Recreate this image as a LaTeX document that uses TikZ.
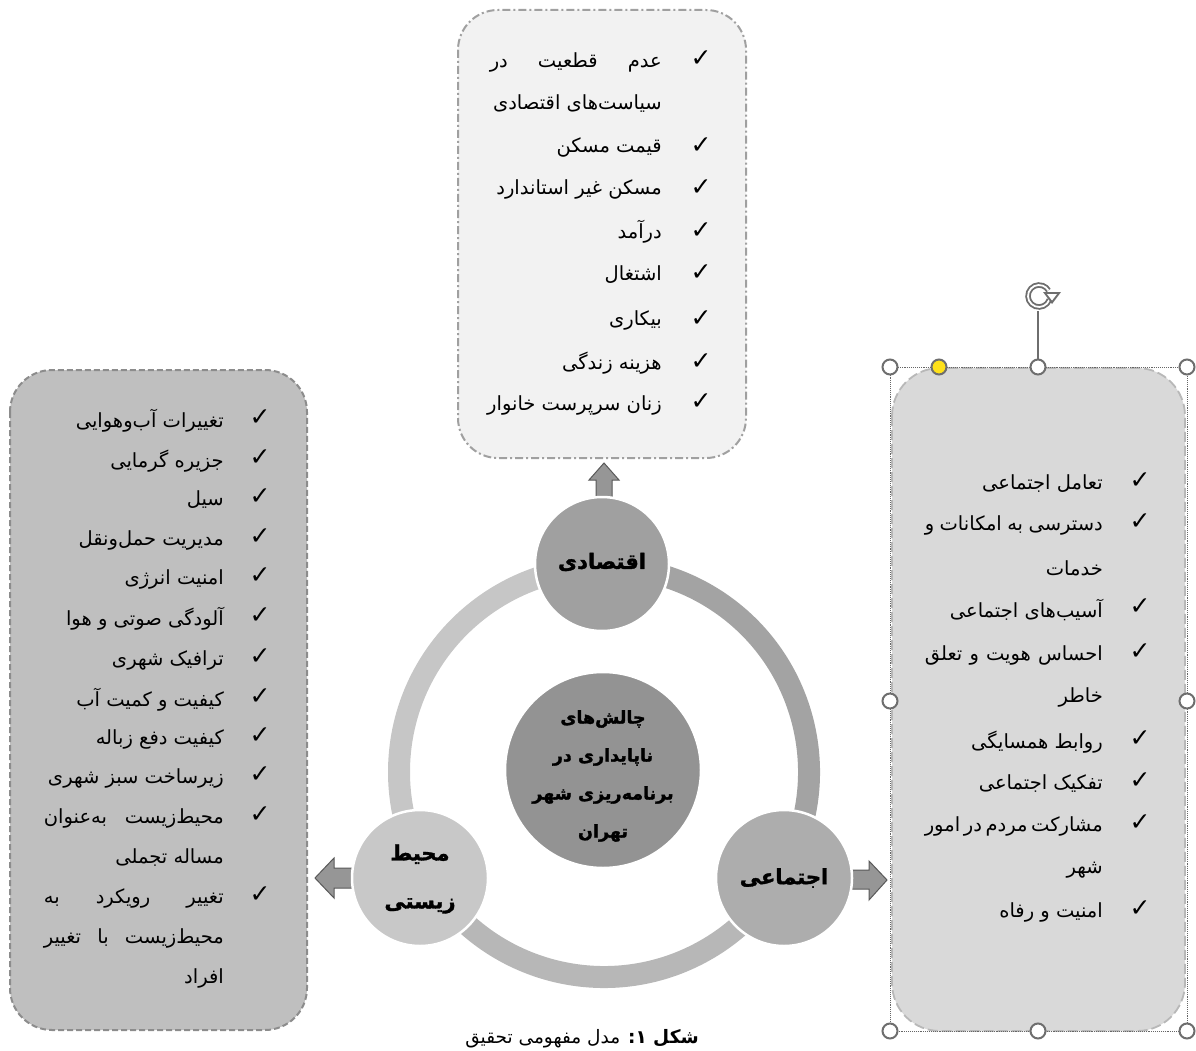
\documentclass[tikz,border=0pt]{standalone}
\usepackage{fontspec}
\usetikzlibrary{arrows.meta}
\TeXXeTstate=1
\newfontfamily\arabicfont[Script=Arabic]{DejaVu Sans}
\newfontfamily\arabicheavy[Script=Arabic, FakeBold=1.6]{DejaVu Sans Bold}
\newfontfamily\symfont{DejaVu Sans}
\definecolor{topfill}{HTML}{F2F2F2}
\definecolor{leftfill}{HTML}{BFBFBF}
\definecolor{rightfill}{HTML}{D9D9D9}
\definecolor{bordgray}{HTML}{A0A0A0}
\definecolor{ringA}{HTML}{C6C6C6}
\definecolor{ringB}{HTML}{A3A3A3}
\definecolor{ringC}{HTML}{B7B7B7}
\definecolor{cTop}{HTML}{A0A0A0}
\definecolor{cCen}{HTML}{939393}
\definecolor{cRight}{HTML}{ADADAD}
\definecolor{cLeft}{HTML}{C8C8C8}
\definecolor{arrfill}{HTML}{969696}
\definecolor{handlegray}{HTML}{6E6E6E}
\definecolor{yel}{HTML}{FFE11A}
\newcommand\jsp{\hskip 3pt plus 1fill\relax}
\begin{document}
\begin{tikzpicture}[x=1pt,y=-1pt,
  itm/.style={anchor=east, inner sep=0pt, font=\arabicfont\fontsize{19.5}{24}\selectfont},
  chk/.style={inner sep=0pt, font=\symfont\fontsize{25}{28}\selectfont},
  circ/.style={circle, draw=white, line width=2.5pt, inner sep=0pt},
  ctext/.style={inner sep=0pt, align=center, font=\arabicheavy\fontsize{21}{48}\selectfont},
  blockarrow/.style={fill=arrfill, draw=black!65, line width=1pt, line join=miter},
  handle/.style={circle, fill=white, draw=handlegray, line width=2pt, minimum size=15pt, inner sep=0pt}
]
\useasboundingbox (0,0) rectangle (1196,1051);

% boxes
\draw[fill=topfill, draw=bordgray, line width=2pt, dash pattern=on 8pt off 3pt on 2pt off 3pt,
  rounded corners=40pt] (458,10) rectangle (746,458);
\draw[fill=leftfill, draw=black!45, line width=2pt, dash pattern=on 6pt off 3pt,
  rounded corners=42pt] (10,370) rectangle (307,1030);
\draw[fill=rightfill, draw=black!28, line width=1.8pt, dash pattern=on 10pt off 4pt,
  rounded corners=48pt] (892,368) rectangle (1185,1031);

% selection frame
\draw[densely dotted, draw=black!60, line width=0.9pt] (890,367) rectangle (1187,1031);
\coordinate (rotbase) at (1038,367);
\coordinate (rotc) at (1039,296);
\draw[handlegray, line width=1.5pt] (rotbase) -- (1038,311);
\draw[handlegray, line width=5.5pt] (rotc) ++(-20:11pt) arc[start angle=-20, end angle=-330, radius=11pt];
\draw[white, line width=1.8pt] (rotc) ++(-20:11pt) arc[start angle=-20, end angle=-330, radius=11pt];
\fill[handlegray] (1043,292) -- (1061,292) -- (1052,304) -- cycle;
\fill[white] (1047,294) -- (1057,294) -- (1052,300.5) -- cycle;
\node[handle] (h1) at (890,367) {};
\node[handle] (h2) at (1038,367) {};
\node[handle] (h3) at (1187,367) {};
\node[handle] (h4) at (890,701) {};
\node[handle] (h5) at (1187,701) {};
\node[handle] (h6) at (890,1031) {};
\node[handle] (h7) at (1038,1031) {};
\node[handle] (h8) at (1187,1031) {};
\node[handle, fill=yel] (hy) at (939,367) {};

% ring
\coordinate (rc) at (604,772);
\draw[ringA, line width=22pt] (rc) ++(90:205pt) arc[start angle=90, end angle=210, radius=205pt];
\draw[ringC, line width=22pt] (rc) ++(210:205pt) arc[start angle=210, end angle=330, radius=205pt];
\draw[ringB, line width=22pt] (rc) ++(-30:205pt) arc[start angle=-30, end angle=90, radius=205pt];

% block arrows
\draw[blockarrow] (596,500) -- (596,480) -- (589,480) -- (604,463) -- (619,480) -- (612,480) -- (612,500) -- cycle;
\draw[blockarrow] (360,868) -- (334,868) -- (334,858) -- (315,878) -- (334,898) -- (334,888) -- (360,888) -- cycle;
\draw[blockarrow] (846,870) -- (869,870) -- (869,861) -- (887,880) -- (869,900) -- (869,889) -- (846,889) -- cycle;

% circles
\node[circ, fill=cTop, minimum size=134pt] (eco) at (602,564) {};
\node[circ, fill=cLeft, minimum size=136pt] (env) at (420,878) {};
\node[circ, fill=cRight, minimum size=136pt] (soc) at (784,878) {};
\node[circ, fill=cCen, minimum size=196pt] (cen) at (603,770) {};
\node[ctext] (ecoT) at (602,562) {\beginR اقتصادی\endR};
\node[ctext] (envT) at (420,879) {\beginR محیط\endR\\\beginR زیستی\endR};
\node[ctext] (socT) at (784,878) {\beginR اجتماعی\endR};
\node[ctext, font=\arabicheavy\fontsize{17.5}{38}\selectfont] (cenT) at (603,776)
  {\beginR چالش‌های\endR\\\beginR ناپایداری در\endR\\\beginR برنامه‌ریزی شهر\endR\\\beginR تهران\endR};

% top list
\node[itm] (e1) at (662,62) {\hbox to 172pt{\beginR عدم\jsp قطعیت\jsp در\endR}};
\node[itm] (e1b) at (662,104) {\beginR سیاست‌های اقتصادی\endR};
\node[itm] (e2) at (662,147) {\beginR قیمت مسکن\endR};
\node[itm] (e3) at (662,189) {\beginR مسکن غیر استاندارد\endR};
\node[itm] (e4) at (662,232) {\beginR درآمد\endR};
\node[itm] (e5) at (662,275) {\beginR اشتغال\endR};
\node[itm] (e6) at (662,320) {\beginR بیکاری\endR};
\node[itm] (e7) at (662,363) {\beginR هزینه زندگی\endR};
\node[itm] (e8) at (662,405) {\beginR زنان سرپرست خانوار\endR};
\foreach \yy [count=\i] in {59,146,188,231,273,319,362,402}
  \node[chk] (ce\i) at (701,\yy) {✓};

% left list
\node[itm] (l1) at (224,421) {\beginR تغییرات آب‌وهوایی\endR};
\node[itm] (l2) at (224,461) {\beginR جزیره گرمایی\endR};
\node[itm] (l3) at (224,500) {\beginR سیل\endR};
\node[itm] (l4) at (224,540) {\beginR مدیریت حمل‌ونقل\endR};
\node[itm] (l5) at (224,579) {\beginR امنیت انرژی\endR};
\node[itm] (l6) at (224,619) {\beginR آلودگی صوتی و هوا\endR};
\node[itm] (l7) at (224,660) {\beginR ترافیک شهری\endR};
\node[itm] (l8) at (224,700) {\beginR کیفیت و کمیت آب\endR};
\node[itm] (l9) at (224,739) {\beginR کیفیت دفع زباله\endR};
\node[itm] (l10) at (224,778) {\beginR زیرساخت سبز شهری\endR};
\node[itm] (l11) at (224,818) {\hbox to 180pt{\beginR محیط‌زیست\jsp به‌عنوان\endR}};
\node[itm] (l11b) at (224,858) {\beginR مساله تجملی\endR};
\node[itm] (l12) at (224,898) {\hbox to 180pt{\beginR تغییر\jsp رویکرد\jsp به\endR}};
\node[itm] (l12b) at (224,938) {\hbox to 180pt{\beginR محیط‌زیست\jsp با\jsp تغییر\endR}};
\node[itm] (l12c) at (224,978) {\beginR افراد\endR};
\foreach \yy [count=\i] in {418,458,497,537,576,616,657,697,736,775,815,895}
  \node[chk] (cl\i) at (260,\yy) {✓};

% right list
\node[itm] (s1) at (1103,484) {\beginR تعامل اجتماعی\endR};
\node[itm] (s2) at (1103,525) {\hbox to 178pt{\beginR دسترسی\jsp به\jsp امکانات\jsp و\endR}};
\node[itm] (s2b) at (1103,568) {\beginR خدمات\endR};
\node[itm] (s3) at (1103,610) {\beginR آسیب‌های اجتماعی\endR};
\node[itm] (s4) at (1103,655) {\hbox to 178pt{\beginR احساس\jsp هویت\jsp و\jsp تعلق\endR}};
\node[itm] (s4b) at (1103,697) {\beginR خاطر\endR};
\node[itm] (s5) at (1103,742) {\beginR روابط همسایگی\endR};
\node[itm] (s6) at (1103,784) {\beginR تفکیک اجتماعی\endR};
\node[itm] (s7) at (1103,826) {\hbox to 178pt{\beginR مشارکت\jsp مردم\jsp در\jsp امور\endR}};
\node[itm] (s7b) at (1103,870) {\beginR شهر\endR};
\node[itm] (s8) at (1103,912) {\beginR امنیت و رفاه\endR};
\foreach \yy [count=\i] in {481,522,607,652,739,781,823,909}
  \node[chk] (cs\i) at (1140,\yy) {✓};

% caption
\node[inner sep=0pt, font=\arabicfont\fontsize{18.5}{22}\selectfont] (cap) at (582,1039)
  {\beginR{\bfseries شکل ۱:} مدل مفهومی تحقیق\endR};
\end{tikzpicture}
\end{document}
